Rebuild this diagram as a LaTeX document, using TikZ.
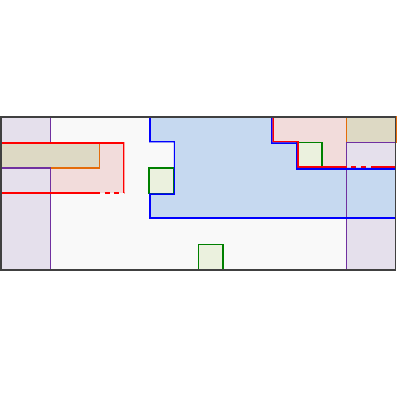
\documentclass[tikz,border=0pt]{standalone}
\usepackage{xcolor}
\usepackage{tikz}
\usetikzlibrary{positioning}

\definecolor{floorgray}{HTML}{F9F9F9}
\definecolor{lilac}{HTML}{E5E0EC}
\definecolor{lilacline}{HTML}{7030A0}
\definecolor{khaki}{HTML}{DDD9C4}
\definecolor{khakiline}{HTML}{E46C0A}
\definecolor{rosefill}{HTML}{F2DCDB}
\definecolor{skyfill}{HTML}{C6D9F0}
\definecolor{mintfill}{HTML}{EBF1DE}
\definecolor{mintline}{HTML}{008000}

\tikzset{
  outerwall/.style={draw=black!75,line width=0.8pt},
  redzone/.style={draw=red,line width=2.2pt},
  bluezone/.style={draw=blue,line width=2.2pt},
  lilacbox/.style={draw=lilacline,line width=1.1pt},
  khakibox/.style={fill=khaki,draw=khakiline,line width=1.1pt},
  mintbox/.style={fill=mintfill,draw=mintline,line width=1pt},
  opening/.style={dash pattern=on 3.5pt off 3.5pt,dash phase=3.5pt}
}

\begin{document}
\begin{tikzpicture}[x=0.617cm,y=0.6375cm]
\useasboundingbox (-0.0405,-5.098) rectangle (16.16,10.588);
\coordinate (SW) at (0,0);
\coordinate (NE) at (16,6);

\fill[floorgray] (SW) rectangle (NE);

% zone fills
\fill[rosefill] (0,3) rectangle (5,5);
\fill[rosefill] (11,6) -- (16,6) -- (16,4) -- (12,4) -- (12,5) -- (11,5) -- cycle;
\fill[lilac] (0,0) rectangle (2,4);
\fill[lilac] (0,5) rectangle (2,6);
\fill[lilac] (14,0) rectangle (16,5);
\fill[skyfill] (6,6) -- (11,6) -- (11,5) -- (12,5) -- (12,4) -- (16,4) -- (16,2)
  -- (6,2) -- (6,3) -- (7,3) -- (7,5) -- (6,5) -- cycle;

\draw[khakibox] (0,4) rectangle (4,5);
\draw[khakibox] (14,5) rectangle (16,6);

\draw[lilacbox] (0,0) rectangle (2,4);
\draw[lilacbox] (0,5) rectangle (2,6);
\draw[lilacbox] (14,0) -- (14,5) -- (16,5);

\draw[mintbox] (6,3) rectangle (7,4);
\draw[mintbox] (12,4) rectangle (13,5);
\draw[mintbox] (8,0) rectangle (9,1);

% zone outlines, kept inside their zones
\begin{scope}
\clip (0,3) rectangle (5,5);
\draw[redzone] (0,5) -- (5,5) -- (5,3);
\draw[redzone] (0,3) -- (4,3);
\draw[redzone,opening] (4,3) -- (5,3);
\end{scope}

\begin{scope}
\clip (11,6) -- (16,6) -- (16,4) -- (12,4) -- (12,5) -- (11,5) -- cycle;
\draw[redzone] (11,6) -- (11,5) -- (12,5) -- (12,4) -- (14,4);
\draw[redzone,opening] (14,4) -- (15,4);
\draw[redzone] (15,4) -- (16,4);
\end{scope}

\begin{scope}
\clip (6,6) -- (11,6) -- (11,5) -- (12,5) -- (12,4) -- (16,4) -- (16,2)
  -- (6,2) -- (6,3) -- (7,3) -- (7,5) -- (6,5) -- cycle;
\draw[bluezone] (11,6) -- (11,5) -- (12,5) -- (12,4) -- (16,4);
\draw[bluezone] (16,2) -- (6,2) -- (6,3) -- (7,3) -- (7,5) -- (6,5) -- (6,6);
\end{scope}

\draw[outerwall] (SW) rectangle (NE);
\end{tikzpicture}
\end{document}
